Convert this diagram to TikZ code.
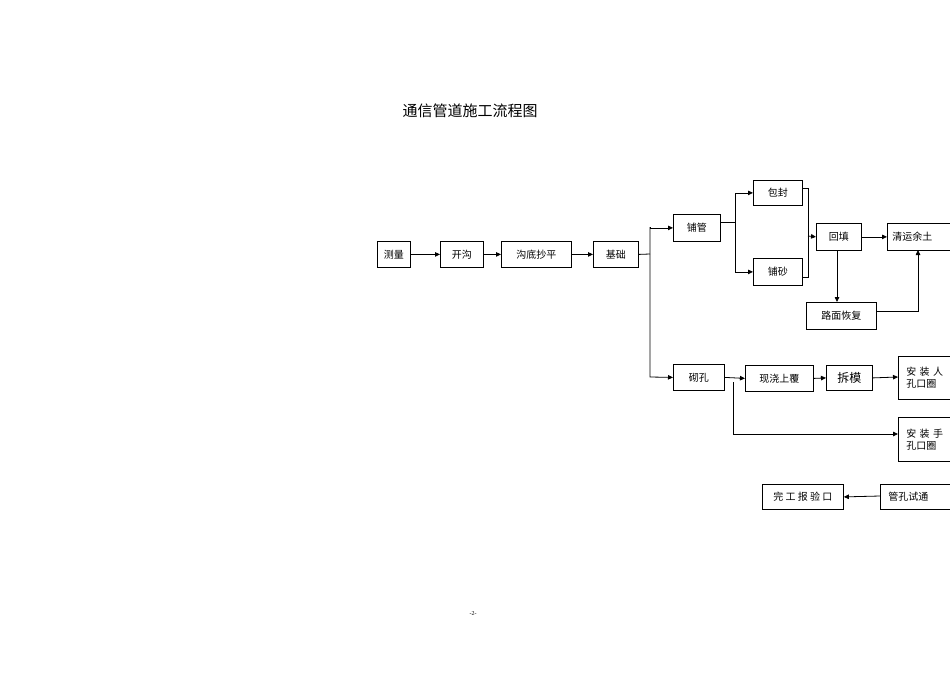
\documentclass[tikz,border=0pt]{standalone}
\usepackage{fontspec}
\setmainfont{Liberation Serif}
\newfontfamily\cjk{Noto Sans CJK SC}
\usetikzlibrary{arrows.meta}
\begin{document}
\begin{tikzpicture}[x=1pt,y=-1pt,
  box/.style={draw,line width=0.8pt,inner sep=0pt,font=\cjk\fontsize{10}{12}\selectfont,anchor=north west},
  arr/.style={-{Triangle[length=5pt,width=4.5pt]},line width=0.8pt},
  ln/.style={line width=0.8pt}]
\useasboundingbox (0,0) rectangle (950,672);
\clip (0,0) rectangle (950,672);
\node[font=\cjk\fontsize{15}{18}\selectfont] (title) at (470,111) {通信管道施工流程图};
\node[font=\fontsize{6}{7}\selectfont] (foot) at (473,614) {-2-};
\newcommand\bx[6]{\node[box,minimum width=#4-#2,minimum height=#5-#3] (#1) at (#2,#3) {#6};}
\bx{a}{377}{241}{410}{267}{测量}
\bx{b}{440}{241}{483}{267}{开沟}
\bx{c}{501}{241}{571}{267}{沟底抄平}
\bx{d}{593}{241}{638}{267}{基础}
\bx{e}{673}{214}{720}{241}{铺管}
\bx{f}{753}{180}{802}{205}{包封}
\bx{g}{753}{258}{802}{285}{铺砂}
\bx{h}{816}{223}{861}{250}{回填}
\bx{k}{806}{302}{876}{329}{路面恢复}
\bx{m}{673}{364}{724}{390}{砌孔}
\bx{n}{745}{365}{813}{391}{现浇上覆}
\bx{p}{826}{365}{872}{390}{\fontsize{12}{14}\selectfont 拆模}
\bx{w}{762}{484}{843}{509}{完 工 报 验 口}
% clipped boxes
\node[box,minimum width=70,minimum height=27,text width=66,align=left] (q) at (887,223) {\hspace*{3pt}清运余土};
\node[box,minimum width=70,minimum height=43,text width=64,align=left] (r) at (898,356) {\hspace*{5pt}安 装 人\\\hspace*{5pt}孔口圈};
\node[box,minimum width=70,minimum height=44,text width=64,align=left] (s) at (898,417) {\hspace*{5pt}安 装 手\\\hspace*{5pt}孔口圈};
\node[box,minimum width=80,minimum height=25,text width=76,align=left] (t) at (880,484) {\hspace*{6pt}管孔试通};
\coordinate (tr) at (650,254);
\draw[arr] (a) -- (b);
\draw[arr] (b) -- (c);
\draw[arr] (c) -- (d);
\draw[ln] (d.east) -- (tr);
\draw[arr] (650,227) |- (e.west);
\draw[arr] (650,227) -- (650,377) -- (m.west);
\draw[ln] (720,222) -- (735,222);
\draw[arr] (735,222) |- (f.west);
\draw[arr] (735,222) |- (g.west);
\draw[ln] (802,188) -- (808,188) -- (808,277) -- (802,277);
\draw[arr] (808,236) -- (h.west);
\draw[arr] (h.east) -- (q.west);
\draw[arr] (837,250) -- (k.north -| 837,0);
\draw[arr] (876,311) -| (918,250);
\draw[arr] (m.east) -- (n.west);
\draw[arr] (n.east) -- (p.west);
\draw[arr] (p.east) -- (r.west |- 0,377);
\draw[arr] (733,382) |- (s.west |- 0,434);
\draw[arr] (t.west |- 0,496) -- (w.east);
\end{tikzpicture}
\end{document}
